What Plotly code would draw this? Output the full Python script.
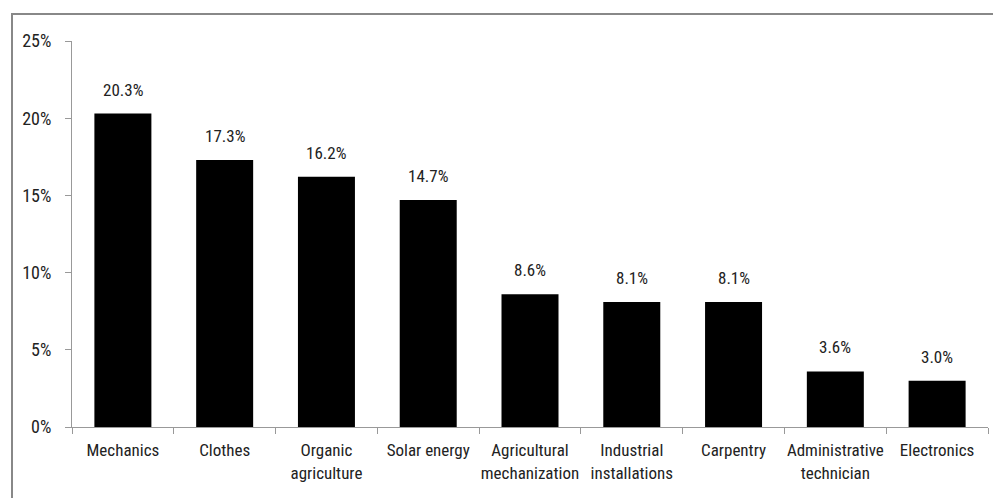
import plotly.graph_objects as go

categories = ["Mechanics", "Clothes", "Organic<br>agriculture", "Solar energy",
              "Agricultural<br>mechanization", "Industrial<br>installations",
              "Carpentry", "Administrative<br>technician", "Electronics"]
values = [20.3, 17.3, 16.2, 14.7, 8.6, 8.1, 8.1, 3.6, 3.0]
labels = [f"{v:.1f}%" for v in values]
ytick_vals = [0, 5, 10, 15, 20, 25]
ytick_text = ["0%", "5%", "10%", "15%", "20%", "25%"]

FONT = "Liberation Sans Narrow, Arial Narrow, Roboto Condensed, Liberation Sans, sans-serif"

fig = go.Figure(go.Bar(
    x=categories, y=values,
    marker=dict(color="black", line=dict(width=0)),
))

for c, v, t in zip(categories, values, labels):
    fig.add_annotation(x=c, y=v, text=t, showarrow=False, yanchor="bottom",
                       yshift=12, font=dict(size=17, family=FONT, color="#222"))

fig.update_layout(
    width=993, height=498,
    margin=dict(l=72, r=5, t=41, b=71),
    plot_bgcolor="white", paper_bgcolor="white",
    bargap=0.44,
    showlegend=False,
    font=dict(family=FONT, size=17, color="#222"),
    shapes=[dict(type="rect", xref="paper", yref="paper",
                 x0=-60/916, x1=1.1, y0=-0.3, y1=1 + 27/386,
                 line=dict(color="#888", width=2), fillcolor="rgba(0,0,0,0)", layer="below")],
)
fig.update_xaxes(showline=True, linecolor="#999", linewidth=1, ticks="outside",
                 tickson="boundaries", ticklen=6, tickcolor="#999",
                 ticklabelstandoff=8, tickangle=0, automargin=False,
                 tickfont=dict(size=17, family=FONT, color="#222"))
fig.update_yaxes(range=[0, 25], tickvals=ytick_vals, ticktext=ytick_text,
                 showline=True, linecolor="#999", linewidth=1, ticks="outside",
                 ticklen=6, tickcolor="#999", showgrid=False, zeroline=False,
                 automargin=False,
                 tickfont=dict(size=18, family=FONT, color="#222"), ticklabelstandoff=10)

fig.write_html("out.html")
